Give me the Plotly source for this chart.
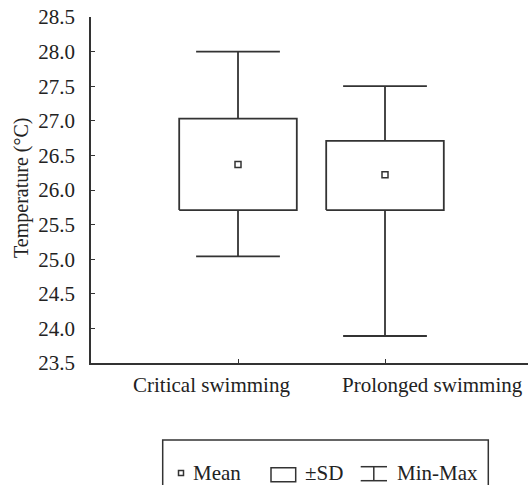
import plotly.graph_objects as go

categories = ["Critical swimming", "Prolonged swimming"]
means = [26.37, 26.22]
sd_low = [25.71, 25.71]
sd_high = [27.03, 26.71]
mins = [25.04, 23.89]
maxs = [28.0, 27.5]
y_ticks = [23.5, 24.0, 24.5, 25.0, 25.5, 26.0, 26.5, 27.0, 27.5, 28.0, 28.5]

W, H = 528, 485
ML, MR, MT, MB = 91, 0, 17, 122
PW, PH = W - ML - MR, H - MT - MB
LINE = "#333333"
FONT = "Liberation Serif"
FS = 21

box_half = 0.40
cap_half = 0.285

fig = go.Figure()
for i, c in enumerate(categories):
    fig.add_trace(go.Scatter(
        x=[i - box_half, i + box_half, i + box_half, i - box_half, i - box_half],
        y=[sd_low[i], sd_low[i], sd_high[i], sd_high[i], sd_low[i]],
        mode="lines", line=dict(color=LINE, width=1.8), showlegend=False, hoverinfo="skip"))
    fig.add_trace(go.Scatter(
        x=[i, i, None, i - cap_half, i + cap_half, None, i, i, None, i - cap_half, i + cap_half],
        y=[sd_high[i], maxs[i], None, maxs[i], maxs[i], None, sd_low[i], mins[i], None, mins[i], mins[i]],
        mode="lines", line=dict(color=LINE, width=1.8), showlegend=False, hoverinfo="skip"))
    fig.add_trace(go.Scatter(
        x=[i], y=[means[i]], mode="markers",
        marker=dict(symbol="square-open", size=6, color=LINE, line=dict(width=1.5, color=LINE)),
        showlegend=False, hoverinfo="skip"))


def px(xp):
    return (xp - ML) / PW


def py(yp):
    return (H - MB - yp) / PH


shapes = []
shapes.append(dict(type="rect", xref="paper", yref="paper", x0=px(162.7), x1=px(488.3),
                   y0=py(487), y1=py(440), line=dict(color=LINE, width=1.5)))
shapes.append(dict(type="rect", xref="paper", yref="paper", x0=px(178.5), x1=px(183.5),
                   y0=py(475.5), y1=py(470.5), line=dict(color=LINE, width=1.5)))
shapes.append(dict(type="rect", xref="paper", yref="paper", x0=px(271), x1=px(295.7),
                   y0=py(481.7), y1=py(467.7), line=dict(color=LINE, width=1.5)))
for (a, b, c_, d) in [(360.7, 466.7, 387, 466.7), (360.7, 480.7, 387, 480.7), (373.8, 466.7, 373.8, 480.7)]:
    shapes.append(dict(type="line", xref="paper", yref="paper", x0=px(a), y0=py(b), x1=px(c_), y1=py(d),
                       line=dict(color=LINE, width=1.5)))

annotations = [
    dict(text="Temperature (°C)", textangle=-90, xref="paper", yref="paper", x=px(22), y=py(188),
         xanchor="center", yanchor="middle", showarrow=False, font=dict(family=FONT, size=FS - 1, color="#222")),
]
for t, xl in [("Mean", 190.5), ("±SD", 303), ("Min-Max", 395)]:
    annotations.append(dict(text=t, xref="paper", yref="paper", x=px(xl), y=py(472.5),
                            xanchor="left", yanchor="middle", showarrow=False,
                            font=dict(family=FONT, size=FS, color="#222")))
for t, xc in zip(categories, [211.7, 432.0]):
    annotations.append(dict(text=t, xref="paper", yref="paper", x=px(xc), y=py(384.5),
                            xanchor="center", yanchor="middle", showarrow=False,
                            font=dict(family=FONT, size=FS, color="#222")))

fig.update_layout(
    width=W, height=H,
    margin=dict(l=ML, r=MR, t=MT, b=MB, pad=0),
    plot_bgcolor="white", paper_bgcolor="white",
    showlegend=False,
    font=dict(family=FONT, size=FS, color="#222"),
    shapes=shapes, annotations=annotations,
    xaxis=dict(range=[-1, (PW / 147) - 1], tickvals=[0, 1], showticklabels=False,
               showline=True, linecolor=LINE, linewidth=1.5, ticks="inside", ticklen=4,
               tickcolor=LINE, tickwidth=1, showgrid=False, zeroline=False, fixedrange=True),
    yaxis=dict(range=[23.5, 28.5], tickvals=y_ticks, ticktext=[f"{v:.1f}" for v in y_ticks],
               showline=True, linecolor=LINE, linewidth=1.5, ticks="inside", ticklen=4,
               tickcolor=LINE, tickwidth=1, showgrid=False, zeroline=False,
               ticklabelstandoff=10, tickfont=dict(family=FONT, size=FS, color="#222"), fixedrange=True),
)
fig.write_html("out.html")
